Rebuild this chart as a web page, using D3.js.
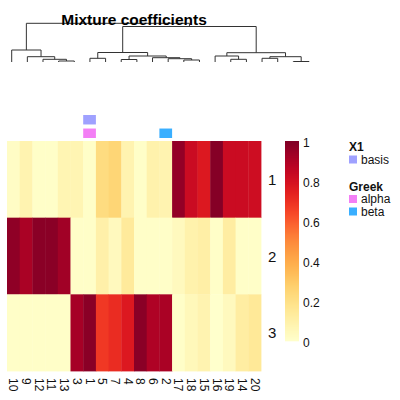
<!DOCTYPE html>
<html><head><meta charset="utf-8">
<script src="https://cdn.jsdelivr.net/npm/d3@7"></script>
<style>body{margin:0;background:#fff}svg{display:block;font-family:"Liberation Sans",Arial,Helvetica,sans-serif}</style>
</head><body>
<svg id="c" width="400" height="400"></svg>
<script>
const columns = ["10","9","12","11","13","3","1","5","7","4","8","6","2","17","18","15","16","19","14","20"];
const rowNames = ["1","2","3"];
const row1 = [0.02,0.08,0.01,0.01,0.07,0.07,0.01,0.22,0.25,0.08,0.01,0.09,0.08,0.96,0.83,0.77,0.99,0.83,0.83,0.82];
const row2 = [0.97,0.91,0.98,0.98,0.93,0.01,0.01,0.10,0.04,0.14,0.01,0.01,0.01,0.04,0.09,0.11,0.01,0.12,0.01,0.01];
const row3 = [0.01,0.01,0.01,0.01,0.01,0.92,0.98,0.68,0.71,0.77,0.98,0.90,0.91,0.01,0.05,0.08,0.00,0.04,0.12,0.15];
const annX1 = [null,null,null,null,null,null,"basis",null,null,null,null,null,null,null,null,null,null,null,null,null];
const annGreek = [null,null,null,null,null,null,"alpha",null,null,null,null,null,"beta",null,null,null,null,null,null,null];
const colorTicks = [0,0.2,0.4,0.6,0.8,1];
const annColors = {basis:"#9fa1ff", alpha:"#f37ff5", beta:"#3aafff"};
// dendrogram: [left, right, height]
const dendro = [
  ["10", ["9", ["12", ["11","13",1.0], 2.7], 5.3], 12],
  [
    [["3","1",3.7], [["5","7",2.5], ["4", ["8", ["6","2",2.0], 3.3], 4.3], 6.0], 9.5],
    [["17", ["18","15",2.7], 6.0], [["16","19",3.7], ["14","20",0.5], 5.3], 9.3],
    35.5
  ],
  38.7
];

const svg = d3.select("#c");
const x = d3.scaleBand().domain(columns).range([7, 261]);
const y = d3.scaleBand().domain(rowNames).range([141, 371]);
const color = d3.scaleSequential(d3.interpolateYlOrRd).domain([0, 1]);
const values = [row1, row2, row3];

// heatmap
values.forEach((vals, r) => {
  svg.append("g").selectAll("rect").data(vals).join("rect")
    .attr("x", (d, i) => x(columns[i]))
    .attr("y", y(rowNames[r]))
    .attr("width", x.bandwidth() + 0.4)
    .attr("height", y.bandwidth() + 0.4)
    .attr("fill", d => color(d));
});

// annotation tracks
const annY = d3.scaleBand().domain(["X1","Greek"]).range([115, 138]).paddingInner(0.3);
[["X1", annX1], ["Greek", annGreek]].forEach(([k, arr]) => {
  svg.append("g").selectAll("rect").data(arr.map((v, i) => ({v, c: columns[i]})).filter(d => d.v))
    .join("rect")
    .attr("x", d => x(d.c)).attr("y", annY(k))
    .attr("width", x.bandwidth()).attr("height", annY.bandwidth())
    .attr("fill", d => annColors[d.v]);
});

// row labels
svg.append("g").selectAll("text").data(rowNames).join("text")
  .attr("x", 268).attr("y", d => y(d) + y.bandwidth() / 2)
  .attr("dominant-baseline", "central")
  .attr("font-size", 15).attr("fill", "#111").text(d => d);

// column labels
svg.append("g").selectAll("text").data(columns).join("text")
  .attr("transform", d => `translate(${x(d) + x.bandwidth() / 2},378) rotate(90)`)
  .attr("dominant-baseline", "central")
  .attr("font-size", 12).attr("fill", "#111").text(d => d);

// dendrogram
const leafX = d3.scalePoint().domain(columns).range([11.7, 309]);
const hY = d3.scaleLinear().domain([0, 38.7]).range([62, 23.3]);
const dg = svg.append("g").attr("fill", "none").attr("stroke", "#333").attr("stroke-width", 1);
function draw(node) {
  if (typeof node === "string") return {x: leafX(node), h: 0};
  const a = draw(node[0]), b = draw(node[1]), h = node[2];
  const yy = hY(h);
  dg.append("path").attr("d",
    `M${a.x},${hY(a.h)}V${yy}H${b.x}V${hY(b.h)}`);
  return {x: (a.x + b.x) / 2, h};
}
draw(dendro);

// title
svg.append("text").attr("x", 134).attr("y", 25).attr("text-anchor", "middle")
  .attr("font-size", 15.5).attr("font-weight", "bold").attr("fill", "#000")
  .text("Mixture coefficients");

// color bar
const cy = d3.scaleLinear().domain([0, 1]).range([341, 141]);
const steps = d3.range(0, 100);
svg.append("g").selectAll("rect").data(steps).join("rect")
  .attr("x", 285).attr("width", 14)
  .attr("y", d => cy((d + 1) / 100)).attr("height", cy(0) - cy(0.01) + 0.3)
  .attr("fill", d => color((d + 0.5) / 100));
svg.append("g").selectAll("text").data(colorTicks).join("text")
  .attr("x", 303).attr("y", d => cy(d) + 1.5)
  .attr("dominant-baseline", "central")
  .attr("font-size", 12).attr("fill", "#111").text(d => d3.format("~g")(d));

// legend
const lg = svg.append("g").attr("font-size", 12).attr("fill", "#111");
lg.append("text").attr("x", 349).attr("y", 151).attr("font-weight", "bold").text("X1");
const legendItems = [
  {k: "basis", y: 155.5},
  {k: "alpha", y: 195},
  {k: "beta", y: 207.5}
];
lg.append("text").attr("x", 349).attr("y", 190.5).attr("font-weight", "bold").text("Greek");
lg.selectAll("rect").data(legendItems).join("rect")
  .attr("x", 349).attr("y", d => d.y).attr("width", 8).attr("height", 8)
  .attr("fill", d => annColors[d.k]);
lg.selectAll("text.it").data(legendItems).join("text").attr("class", "it")
  .attr("x", 361).attr("y", d => d.y + 8).text(d => d.k);
</script>
</body></html>
